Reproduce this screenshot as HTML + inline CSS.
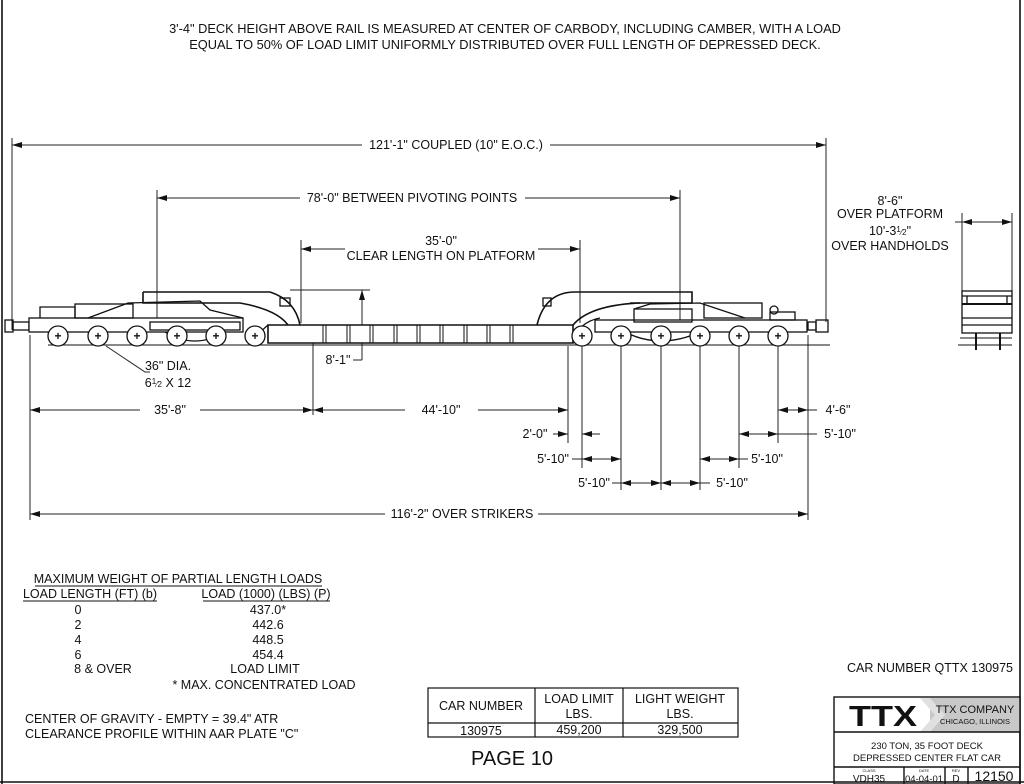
<!DOCTYPE html>
<html><head><meta charset="utf-8"><style>
html,body{margin:0;padding:0;background:#fff;}
svg{display:block;font-family:"Liberation Sans",Arial,sans-serif;}
</style></head><body>
<svg width="1024" height="784" viewBox="0 0 1024 784" xmlns="http://www.w3.org/2000/svg">
<defs>
<marker id="a" viewBox="0 0 10 6" refX="10" refY="3" markerWidth="10" markerHeight="6" orient="auto-start-reverse" markerUnits="userSpaceOnUse"><path d="M0,0L10,3L0,6z" fill="#111"/></marker>
</defs>
<rect width="1024" height="784" fill="#fff"/>
<g stroke="#111" fill="none" stroke-width="1.6">
<line x1="2" y1="0" x2="2" y2="784"/>
<line x1="1020" y1="0" x2="1020" y2="784"/>
<line x1="0" y1="782" x2="1024" y2="782"/>
</g>
<g font-size="12.8" fill="#111" text-anchor="middle">
<text x="505" y="33">3'-4" DECK HEIGHT ABOVE RAIL IS MEASURED AT CENTER OF CARBODY, INCLUDING CAMBER, WITH A LOAD</text>
<text x="505" y="49">EQUAL TO 50% OF LOAD LIMIT UNIFORMLY DISTRIBUTED OVER FULL LENGTH OF DEPRESSED DECK.</text>
</g>
<g stroke="#222" stroke-width="1" fill="none">
<line x1="12" y1="138" x2="12" y2="330"/>
<line x1="826" y1="138" x2="826" y2="322"/>
<line x1="12" y1="145" x2="362" y2="145" marker-start="url(#a)"/>
<line x1="550" y1="145" x2="826" y2="145" marker-end="url(#a)"/>
<line x1="157" y1="190" x2="157" y2="330"/>
<line x1="680" y1="190" x2="680" y2="330"/>
<line x1="157" y1="198" x2="300" y2="198" marker-start="url(#a)"/>
<line x1="525" y1="198" x2="680" y2="198" marker-end="url(#a)"/>
<line x1="301" y1="240" x2="301" y2="323"/>
<line x1="580" y1="240" x2="580" y2="323"/>
<line x1="301" y1="249" x2="345" y2="249" marker-start="url(#a)"/>
<line x1="538" y1="249" x2="580" y2="249" marker-end="url(#a)"/>
<line x1="290" y1="290" x2="370" y2="290"/>
<line x1="362" y1="360" x2="362" y2="290" marker-end="url(#a)"/>
<line x1="353" y1="360" x2="362" y2="360"/>
<line x1="313" y1="342" x2="313" y2="415"/>
<polyline points="106,346 145,372 150,372"/>
<line x1="962" y1="213" x2="962" y2="292"/>
<line x1="1012" y1="213" x2="1012" y2="292"/>
<line x1="955" y1="222" x2="1012" y2="222"/>
<line x1="962" y1="222" x2="980" y2="222" marker-start="url(#a)"/>
<line x1="994" y1="222" x2="1012" y2="222" marker-end="url(#a)"/>
<line x1="30" y1="335" x2="30" y2="520"/>
<line x1="568" y1="346" x2="568" y2="443"/>
<line x1="582" y1="346" x2="582" y2="468"/>
<line x1="621" y1="346" x2="621" y2="490"/>
<line x1="661" y1="346" x2="661" y2="490"/>
<line x1="700" y1="346" x2="700" y2="490"/>
<line x1="739" y1="346" x2="739" y2="468"/>
<line x1="778" y1="346" x2="778" y2="443"/>
<line x1="808" y1="335" x2="808" y2="520"/>
<line x1="30" y1="410" x2="140" y2="410" marker-start="url(#a)"/>
<line x1="200" y1="410" x2="313" y2="410" marker-end="url(#a)"/>
<line x1="313" y1="410" x2="405" y2="410" marker-start="url(#a)"/>
<line x1="478" y1="410" x2="568" y2="410" marker-end="url(#a)"/>
<line x1="778" y1="410" x2="808" y2="410" marker-end="url(#a)" marker-start="url(#a)"/>
<line x1="808" y1="410" x2="817" y2="410"/>
<line x1="553" y1="434" x2="568" y2="434" marker-end="url(#a)"/>
<line x1="600" y1="434" x2="582" y2="434" marker-end="url(#a)"/>
<line x1="739" y1="434" x2="778" y2="434" marker-start="url(#a)" marker-end="url(#a)"/>
<line x1="778" y1="434" x2="817" y2="434"/>
<line x1="572" y1="459" x2="582" y2="459"/>
<line x1="582" y1="459" x2="621" y2="459" marker-start="url(#a)" marker-end="url(#a)"/>
<line x1="700" y1="459" x2="739" y2="459" marker-start="url(#a)" marker-end="url(#a)"/>
<line x1="739" y1="459" x2="748" y2="459"/>
<line x1="612" y1="483" x2="621" y2="483"/>
<line x1="621" y1="483" x2="661" y2="483" marker-start="url(#a)" marker-end="url(#a)"/>
<line x1="661" y1="483" x2="700" y2="483" marker-start="url(#a)" marker-end="url(#a)"/>
<line x1="700" y1="483" x2="710" y2="483"/>
<line x1="30" y1="514" x2="385" y2="514" marker-start="url(#a)"/>
<line x1="538" y1="514" x2="808" y2="514" marker-end="url(#a)"/>
</g>
<g stroke="#111" stroke-width="1.3" fill="none">
<line x1="48" y1="345" x2="830" y2="345" stroke-width="1"/>
<rect x="5" y="320" width="8" height="12"/>
<rect x="13" y="322" width="16" height="8"/>
<rect x="29" y="318" width="214" height="14" fill="#fff"/>
<polyline points="40,318 40,307 75,307 75,318"/>
<rect x="75" y="304" width="58" height="14"/>
<polyline points="88,318 128,303 200,301 210,310 243,318"/>
<rect x="150" y="322" width="90" height="8"/>
<path d="M165,332 Q195,350 225,332"/>
<path d="M143,292 L143,303 L240,303 Q280,310 290,328 L300,325" stroke-width="1.6"/>
<path d="M143,292 L270,292 Q295,300 300,325" stroke-width="1.6"/>
<rect x="280" y="298" width="10" height="8"/>
<path d="M268,325 L573,325 L573,343 L268,343 Z" stroke-width="1.6" fill="#fff"/>
<g stroke-width="1">
<line x1="323" y1="325" x2="323" y2="343"/><line x1="326" y1="325" x2="326" y2="343"/>
<line x1="347" y1="325" x2="347" y2="343"/><line x1="350" y1="325" x2="350" y2="343"/>
<line x1="370" y1="325" x2="370" y2="343"/><line x1="373" y1="325" x2="373" y2="343"/>
<line x1="394" y1="325" x2="394" y2="343"/><line x1="397" y1="325" x2="397" y2="343"/>
<line x1="417" y1="325" x2="417" y2="343"/><line x1="420" y1="325" x2="420" y2="343"/>
<line x1="440" y1="325" x2="440" y2="343"/><line x1="443" y1="325" x2="443" y2="343"/>
<line x1="464" y1="325" x2="464" y2="343"/><line x1="467" y1="325" x2="467" y2="343"/>
<line x1="487" y1="325" x2="487" y2="343"/><line x1="490" y1="325" x2="490" y2="343"/>
<line x1="510" y1="325" x2="510" y2="343"/><line x1="513" y1="325" x2="513" y2="343"/>
</g>
<path d="M250,343 Q262,330 268,325" />
<path d="M573,343 Q578,322 600,318"/>
<path d="M537,325 Q545,292 575,292 L692,292 L692,303 L630,303" stroke-width="1.6"/>
<path d="M573,325 Q590,305 640,303" stroke-width="1.6"/>
<rect x="543" y="298" width="8" height="8"/>
<rect x="595" y="320" width="212" height="12" fill="#fff"/>
<rect x="634" y="309" width="58" height="13"/>
<polyline points="634,309 650,304 700,303 745,318"/>
<rect x="704" y="303" width="58" height="15"/>
<rect x="770" y="312" width="25" height="8"/>
<circle cx="774" cy="310" r="4"/>
<path d="M625,332 Q660,350 700,332"/>
<rect x="808" y="322" width="8" height="8"/>
<rect x="816" y="320" width="12" height="12"/>
</g>
<g stroke="#111" stroke-width="1.3" fill="#fff">
<circle cx="58" cy="336" r="10"/><circle cx="98" cy="336" r="10"/><circle cx="137" cy="336" r="10"/>
<circle cx="177" cy="336" r="10"/><circle cx="216" cy="336" r="10"/><circle cx="255" cy="336" r="10"/>
<circle cx="582" cy="336" r="10"/><circle cx="621" cy="336" r="10"/><circle cx="661" cy="336" r="10"/>
<circle cx="700" cy="336" r="10"/><circle cx="739" cy="336" r="10"/><circle cx="778" cy="336" r="10"/>
</g>
<g font-size="12" fill="#111" text-anchor="middle" font-weight="bold">
<text x="58" y="340">+</text><text x="98" y="340">+</text><text x="137" y="340">+</text><text x="177" y="340">+</text><text x="216" y="340">+</text><text x="255" y="340">+</text>
<text x="582" y="340">+</text><text x="621" y="340">+</text><text x="661" y="340">+</text><text x="700" y="340">+</text><text x="739" y="340">+</text><text x="778" y="340">+</text>
</g>
<g stroke="#111" stroke-width="1.3" fill="none">
<rect x="962" y="291" width="50" height="42"/>
<line x1="962" y1="296" x2="1012" y2="296"/>
<line x1="962" y1="304" x2="1012" y2="304" stroke-width="2"/>
<line x1="967" y1="296" x2="967" y2="304"/><line x1="1007" y1="296" x2="1007" y2="304"/>
<line x1="962" y1="318" x2="1012" y2="318"/>
<line x1="962" y1="325" x2="1012" y2="325"/>
<line x1="976" y1="333" x2="976" y2="350" stroke-width="2"/>
<line x1="1000" y1="333" x2="1000" y2="350" stroke-width="2"/>
<line x1="960" y1="338" x2="1012" y2="338" stroke-width="1"/>
<line x1="958" y1="345" x2="1012" y2="345" stroke-width="1"/>
</g>
<g font-size="12.5" fill="#111">
<text x="456" y="149" text-anchor="middle">121'-1" COUPLED (10" E.O.C.)</text>
<text x="412" y="202" text-anchor="middle">78'-0" BETWEEN PIVOTING POINTS</text>
<text x="441" y="245" text-anchor="middle">35'-0"</text>
<text x="441" y="260" text-anchor="middle">CLEAR LENGTH ON PLATFORM</text>
<text x="890" y="205" text-anchor="middle">8'-6"</text>
<text x="890" y="218" text-anchor="middle">OVER PLATFORM</text>
<text x="890" y="235" text-anchor="middle">10'-3<tspan font-size="8" dy="-3">1</tspan><tspan font-size="8" dy="3">⁄</tspan><tspan font-size="8">2</tspan>"</text>
<text x="890" y="250" text-anchor="middle">OVER HANDHOLDS</text>
<text x="338" y="364" text-anchor="middle">8'-1"</text>
<text x="168" y="370" text-anchor="middle">36" DIA.</text>
<text x="168" y="387" text-anchor="middle">6<tspan font-size="8" dy="-3">1</tspan><tspan font-size="8" dy="3">⁄</tspan><tspan font-size="8">2</tspan> X 12</text>
<text x="170" y="414" text-anchor="middle">35'-8"</text>
<text x="441" y="414" text-anchor="middle">44'-10"</text>
<text x="838" y="414" text-anchor="middle">4'-6"</text>
<text x="535" y="438" text-anchor="middle">2'-0"</text>
<text x="840" y="438" text-anchor="middle">5'-10"</text>
<text x="553" y="463" text-anchor="middle">5'-10"</text>
<text x="767" y="463" text-anchor="middle">5'-10"</text>
<text x="594" y="487" text-anchor="middle">5'-10"</text>
<text x="732" y="487" text-anchor="middle">5'-10"</text>
<text x="462" y="518" text-anchor="middle">116'-2" OVER STRIKERS</text>
</g>
<g font-size="12.5" fill="#111" text-anchor="middle">
<text x="178" y="583">MAXIMUM WEIGHT OF PARTIAL LENGTH LOADS</text>
<text x="90" y="598">LOAD LENGTH (FT) (b)</text>
<text x="266" y="598">LOAD (1000) (LBS) (P)</text>
<text x="78" y="614">0</text><text x="268" y="614">437.0*</text>
<text x="78" y="629">2</text><text x="268" y="629">442.6</text>
<text x="78" y="644">4</text><text x="268" y="644">448.5</text>
<text x="78" y="659">6</text><text x="268" y="659">454.4</text>
<text x="103" y="673">8 &amp; OVER</text><text x="265" y="673">LOAD LIMIT</text>
<text x="264" y="689">* MAX. CONCENTRATED LOAD</text>
</g>
<g stroke="#111" stroke-width="1">
<line x1="35" y1="586" x2="322" y2="586"/>
<line x1="23" y1="601" x2="157" y2="601"/>
<line x1="203" y1="601" x2="330" y2="601"/>
</g>
<g font-size="12.5" fill="#111">
<text x="25" y="723">CENTER OF GRAVITY - EMPTY = 39.4" ATR</text>
<text x="25" y="738">CLEARANCE PROFILE WITHIN AAR PLATE "C"</text>
<text x="930" y="672" text-anchor="middle">CAR NUMBER QTTX 130975</text>
</g>
<g stroke="#111" stroke-width="1.2" fill="none">
<rect x="428" y="688" width="310" height="49"/>
<line x1="428" y1="723" x2="738" y2="723"/>
<line x1="535" y1="688" x2="535" y2="737"/>
<line x1="623" y1="688" x2="623" y2="737"/>
</g>
<g font-size="12.5" fill="#111" text-anchor="middle">
<text x="481" y="710">CAR NUMBER</text>
<text x="579" y="703">LOAD LIMIT</text><text x="579" y="718">LBS.</text>
<text x="680" y="703">LIGHT WEIGHT</text><text x="680" y="718">LBS.</text>
<text x="481" y="735">130975</text><text x="579" y="734">459,200</text><text x="680" y="734">329,500</text>
<text x="512" y="765" font-size="20">PAGE 10</text>
</g>
<rect x="930" y="698" width="90" height="34" fill="#c8c8c8"/>
<polygon points="920,698 930,698 945,715 930,732 920,732 935,715" fill="#e0e0e0"/>
<g stroke="#111" stroke-width="1.4" fill="none">
<rect x="834" y="697" width="186" height="87"/>
<line x1="834" y1="732" x2="1020" y2="732"/>
<line x1="834" y1="767" x2="1020" y2="767"/>
<line x1="904" y1="767" x2="904" y2="784"/>
<line x1="945" y1="767" x2="945" y2="784"/>
<line x1="968" y1="767" x2="968" y2="784"/>
</g>
<text x="849" y="726" font-size="29" font-weight="bold" fill="#111" font-family="Liberation Sans" textLength="68" lengthAdjust="spacingAndGlyphs">TTX</text>
<g fill="#111" text-anchor="middle">
<text x="975" y="713" font-size="11">TTX COMPANY</text>
<text x="975" y="724" font-size="7.5">CHICAGO, ILLINOIS</text>
<text x="927" y="749" font-size="9.5">230 TON, 35 FOOT DECK</text>
<text x="927" y="761" font-size="9.5">DEPRESSED CENTER FLAT CAR</text>
<text x="869" y="772" font-size="4">CLASS</text>
<text x="869" y="782" font-size="10">VDH35</text>
<text x="924" y="772" font-size="4">DATE</text>
<text x="924" y="782" font-size="9.5">04-04-01</text>
<text x="956" y="772" font-size="4">REV</text>
<text x="956" y="782" font-size="10">D</text>
<text x="994" y="781" font-size="14">12150</text>
</g>
</svg>
</body></html>
